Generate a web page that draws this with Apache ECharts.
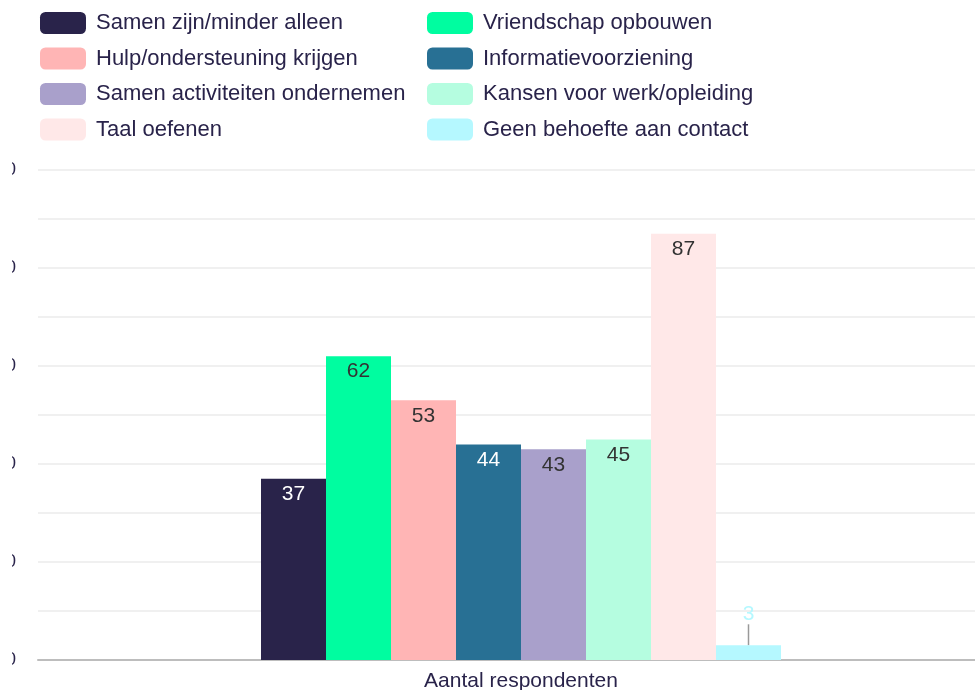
<!DOCTYPE html>
<html>
<head>
<meta charset="utf-8">
<script src="https://cdn.jsdelivr.net/npm/echarts@6/dist/echarts.min.js"></script>
<style>
  html, body { margin: 0; padding: 0; background: #fff; }
  #wrap { position: absolute; left: 12px; top: 0; width: 963px; height: 690px; overflow: hidden; }
  #chart { position: absolute; left: -100px; top: 0; width: 1120px; height: 690px; }
</style>
</head>
<body>
<div id="wrap"><div id="chart"></div></div>
<script>
const categories = ['Aantal respondenten'];
const seriesNames = [
  'Samen zijn/minder alleen',
  'Vriendschap opbouwen',
  'Hulp/ondersteuning krijgen',
  'Informatievoorziening',
  'Samen activiteiten ondernemen',
  'Kansen voor werk/opleiding',
  'Taal oefenen',
  'Geen behoefte aan contact'
];
const seriesValues = [37, 62, 53, 44, 43, 45, 87, 3];
const colors = ['#29234A', '#00FDA0', '#FFB5B5', '#287094', '#A9A0CB', '#B5FDE0', '#FFE8E8', '#B5F8FF'];
const labelColors = ['#ffffff', '#333333', '#333333', '#ffffff', '#333333', '#333333', '#333333', '#B5F8FF'];
const legendLeft = [seriesNames[0], seriesNames[2], seriesNames[4], seriesNames[6]];
const legendRight = [seriesNames[1], seriesNames[3], seriesNames[5], seriesNames[7]];

const FONT = '"Liberation Sans", Arial, Helvetica, sans-serif';
const TEXT = '#29234A';

const series = seriesNames.map((name, i) => {
  const small = seriesValues[i] < 10;
  const s = {
    name: name,
    type: 'bar',
    data: [seriesValues[i]],
    barWidth: 65,
    barGap: '0%',
    itemStyle: { color: colors[i] },
    label: {
      show: true,
      position: small ? 'top' : 'insideTop',
      distance: 5,
      color: labelColors[i],
      fontSize: 21,
      fontFamily: FONT
    }
  };
  if (small) {
    s.labelLayout = { dy: -16 };
    s.labelLine = { show: true, lineStyle: { color: '#999999', width: 1.5 } };
  }
  return s;
});

const legendCommon = {
  orient: 'vertical', top: 12, padding: 0,
  itemWidth: 46, itemHeight: 22, itemGap: 13.5, icon: 'roundRect',
  textStyle: { color: TEXT, fontSize: 22, fontFamily: FONT, padding: [0, 0, 0, 5] }
};

const chart = echarts.init(document.getElementById('chart'), null, { renderer: 'canvas' });
chart.setOption({
  animation: false,
  color: colors,
  textStyle: { fontFamily: FONT },
  legend: [
    Object.assign({ data: legendLeft, left: 128 }, legendCommon),
    Object.assign({ data: legendRight, left: 515 }, legendCommon)
  ],
  grid: { left: 126, right: 28, top: 170, bottom: 30, containLabel: false, outerBoundsMode: 'none' },
  xAxis: {
    type: 'category',
    data: categories,
    axisLine: { lineStyle: { color: '#BDBDBD', width: 2 } },
    axisTick: { show: false },
    axisLabel: { color: TEXT, fontSize: 21, margin: 11, fontFamily: FONT }
  },
  yAxis: {
    type: 'value',
    min: 0, max: 100, interval: 20,
    axisLine: { show: false },
    axisTick: { show: false },
    axisLabel: { color: TEXT, fontSize: 18, margin: 22, fontFamily: FONT },
    splitLine: { lineStyle: { color: '#EBEBEB', width: 1.5 } },
    minorTick: { show: false, splitNumber: 2 },
    minorSplitLine: { show: true, lineStyle: { color: '#EBEBEB', width: 1.5 } }
  },
  series: series
});
</script>
</body>
</html>
